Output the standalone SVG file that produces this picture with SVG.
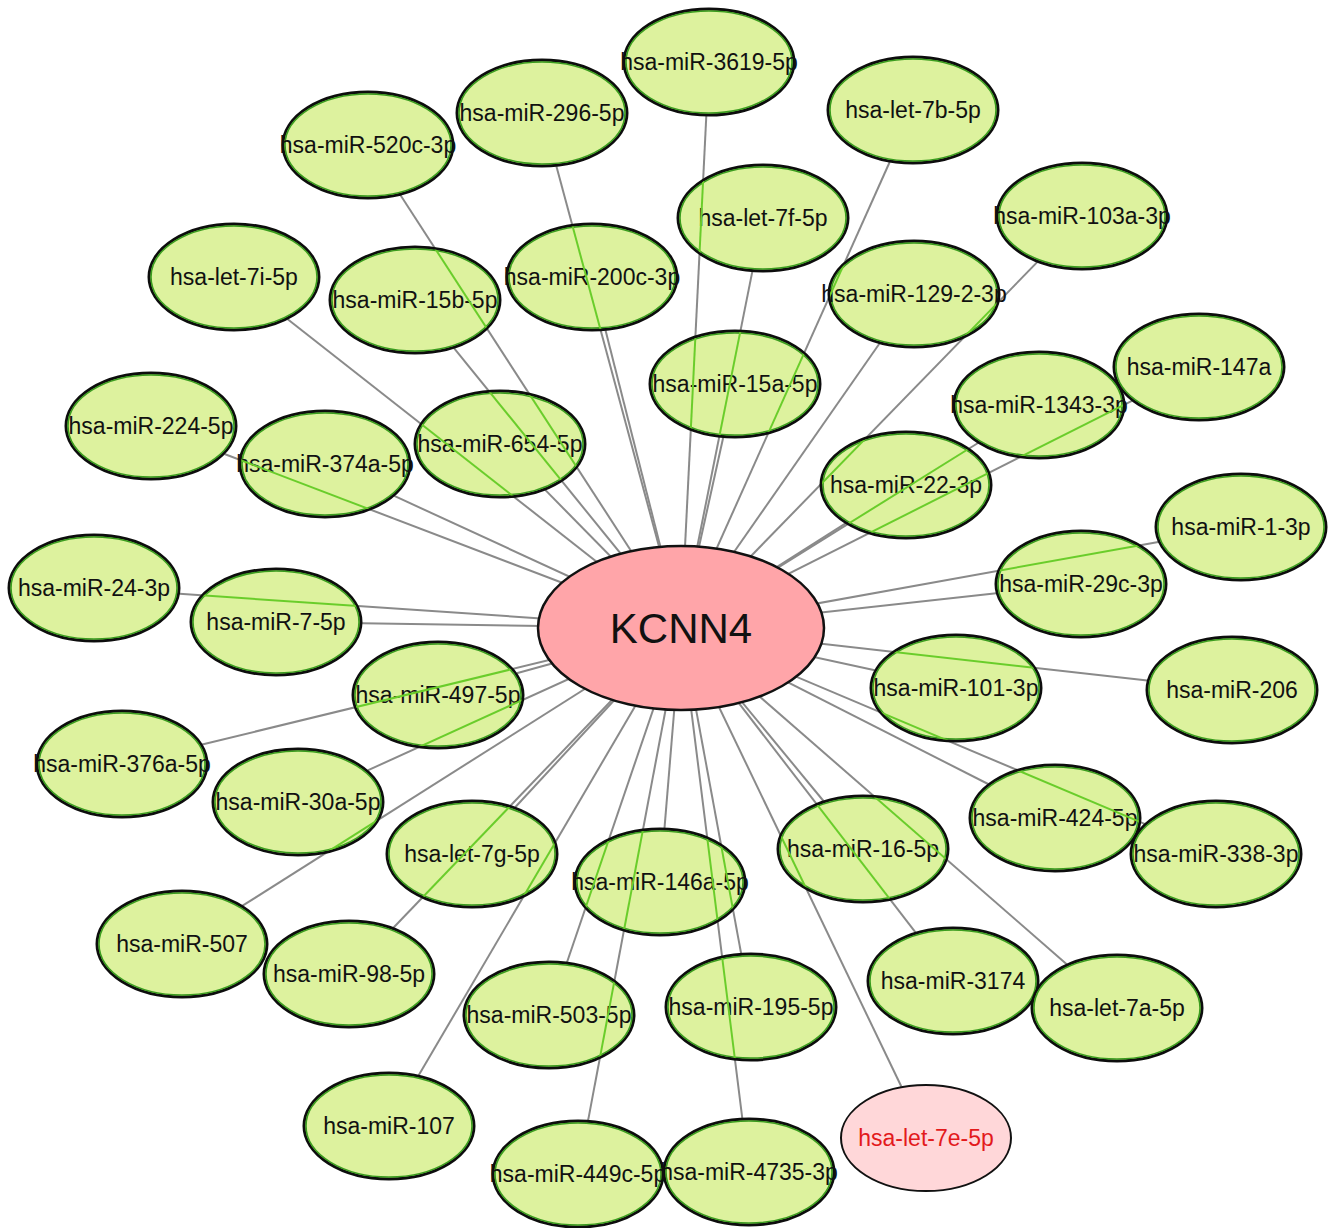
<svg xmlns="http://www.w3.org/2000/svg" xmlns:xlink="http://www.w3.org/1999/xlink" width="1335" height="1228" viewBox="0 0 1335 1228">
<style>
.e{stroke:#8a8a8a;stroke-width:2}
.nf{fill:#ddf29e;stroke:#0d0d0d;stroke-width:3}
.ni{fill:none;stroke:#3b9d1f;stroke-width:1.6}
.t{font-family:"Liberation Sans",Arial,sans-serif;font-size:23px;fill:#111;text-anchor:middle}
.hub{fill:#ffa5a9;stroke:#111;stroke-width:2.5}
.hubt{font-family:"Liberation Sans",Arial,sans-serif;font-size:42px;fill:#111;text-anchor:middle}
.pk{fill:#ffd7d9;stroke:#111;stroke-width:2}
.rt{font-family:"Liberation Sans",Arial,sans-serif;font-size:23px;fill:#e31a1c;text-anchor:middle}
</style>
<defs>
<filter id="tint" filterUnits="userSpaceOnUse" x="0" y="0" width="1335" height="1228">
<feFlood flood-color="#6acd2c"/>
<feComposite in2="SourceAlpha" operator="in"/>
</filter>
<clipPath id="nc">
<ellipse cx="709" cy="62" rx="84" ry="52"/>
<ellipse cx="542" cy="113" rx="84" ry="52"/>
<ellipse cx="368" cy="145" rx="84" ry="52"/>
<ellipse cx="913" cy="110" rx="84" ry="52"/>
<ellipse cx="763" cy="218" rx="84" ry="52"/>
<ellipse cx="1082" cy="216" rx="84" ry="52"/>
<ellipse cx="234" cy="277" rx="84" ry="52"/>
<ellipse cx="415" cy="300" rx="84" ry="52"/>
<ellipse cx="592" cy="277" rx="84" ry="52"/>
<ellipse cx="914" cy="294" rx="84" ry="52"/>
<ellipse cx="1199" cy="367" rx="84" ry="52"/>
<ellipse cx="735" cy="384" rx="84" ry="52"/>
<ellipse cx="1039" cy="405" rx="84" ry="52"/>
<ellipse cx="151" cy="426" rx="84" ry="52"/>
<ellipse cx="325" cy="464" rx="84" ry="52"/>
<ellipse cx="500" cy="444" rx="84" ry="52"/>
<ellipse cx="906" cy="485" rx="84" ry="52"/>
<ellipse cx="1241" cy="527" rx="84" ry="52"/>
<ellipse cx="94" cy="588" rx="84" ry="52"/>
<ellipse cx="1081" cy="584" rx="84" ry="52"/>
<ellipse cx="276" cy="622" rx="84" ry="52"/>
<ellipse cx="1232" cy="690" rx="84" ry="52"/>
<ellipse cx="956" cy="688" rx="84" ry="52"/>
<ellipse cx="438" cy="695" rx="84" ry="52"/>
<ellipse cx="122" cy="764" rx="84" ry="52"/>
<ellipse cx="298" cy="802" rx="84" ry="52"/>
<ellipse cx="1055" cy="818" rx="84" ry="52"/>
<ellipse cx="1216" cy="854" rx="84" ry="52"/>
<ellipse cx="863" cy="849" rx="84" ry="52"/>
<ellipse cx="472" cy="854" rx="84" ry="52"/>
<ellipse cx="660" cy="882" rx="84" ry="52"/>
<ellipse cx="182" cy="944" rx="84" ry="52"/>
<ellipse cx="349" cy="974" rx="84" ry="52"/>
<ellipse cx="953" cy="981" rx="84" ry="52"/>
<ellipse cx="1117" cy="1008" rx="84" ry="52"/>
<ellipse cx="549" cy="1015" rx="84" ry="52"/>
<ellipse cx="751" cy="1007" rx="84" ry="52"/>
<ellipse cx="389" cy="1126" rx="84" ry="52"/>
<ellipse cx="578" cy="1174" rx="84" ry="52"/>
<ellipse cx="749" cy="1172" rx="84" ry="52"/>
</clipPath>
</defs>
<rect width="1335" height="1228" fill="#fff"/>
<g id="edges" class="e">
<line x1="706.3" y1="116" x2="681" y2="628"/>
<line x1="556.4" y1="166.2" x2="681" y2="628"/>
<line x1="400.4" y1="195" x2="681" y2="628"/>
<line x1="889.7" y1="162" x2="681" y2="628"/>
<line x1="752.3" y1="271.6" x2="681" y2="628"/>
<line x1="1037.2" y1="262.1" x2="681" y2="628"/>
<line x1="287.7" y1="319.2" x2="681" y2="628"/>
<line x1="454" y1="348.1" x2="681" y2="628"/>
<line x1="605.5" y1="330.3" x2="681" y2="628"/>
<line x1="879.5" y1="343.5" x2="681" y2="628"/>
<line x1="1131.9" y1="400.8" x2="681" y2="628"/>
<line x1="723.2" y1="437.5" x2="681" y2="628"/>
<line x1="978" y1="443" x2="681" y2="628"/>
<line x1="224.5" y1="454" x2="681" y2="628"/>
<line x1="394.3" y1="495.9" x2="681" y2="628"/>
<line x1="545.2" y1="489.9" x2="681" y2="628"/>
<line x1="845.6" y1="523.4" x2="681" y2="628"/>
<line x1="1158.3" y1="541.9" x2="681" y2="628"/>
<line x1="179.5" y1="593.8" x2="681" y2="628"/>
<line x1="996.3" y1="593.3" x2="681" y2="628"/>
<line x1="362" y1="623.3" x2="681" y2="628"/>
<line x1="1147.4" y1="680.5" x2="681" y2="628"/>
<line x1="874.8" y1="670.3" x2="681" y2="628"/>
<line x1="516.7" y1="673.3" x2="681" y2="628"/>
<line x1="202.2" y1="744.5" x2="681" y2="628"/>
<line x1="367.7" y1="770.4" x2="681" y2="628"/>
<line x1="988.1" y1="784" x2="681" y2="628"/>
<line x1="1144.6" y1="823.9" x2="681" y2="628"/>
<line x1="823.5" y1="801" x2="681" y2="628"/>
<line x1="515.2" y1="807.3" x2="681" y2="628"/>
<line x1="664.5" y1="828.1" x2="681" y2="628"/>
<line x1="242.6" y1="905.7" x2="681" y2="628"/>
<line x1="393.4" y1="927.7" x2="681" y2="628"/>
<line x1="915.5" y1="932.4" x2="681" y2="628"/>
<line x1="1066.7" y1="964.2" x2="681" y2="628"/>
<line x1="567" y1="962.2" x2="681" y2="628"/>
<line x1="741.1" y1="953.4" x2="681" y2="628"/>
<line x1="418.7" y1="1075.3" x2="681" y2="628"/>
<line x1="901.2" y1="1086.3" x2="681" y2="628"/>
<line x1="588.1" y1="1120.4" x2="681" y2="628"/>
<line x1="742.3" y1="1118.2" x2="681" y2="628"/>
</g>
<g id="nodes">
<g id="n-hsa-miR-3619-5p" transform="translate(709,62)"><ellipse class="nf" rx="85" ry="53"/><ellipse class="ni" rx="83" ry="51"/><text class="t" y="8">hsa-miR-3619-5p</text></g>
<g id="n-hsa-miR-296-5p" transform="translate(542,113)"><ellipse class="nf" rx="85" ry="53"/><ellipse class="ni" rx="83" ry="51"/><text class="t" y="8">hsa-miR-296-5p</text></g>
<g id="n-hsa-miR-520c-3p" transform="translate(368,145)"><ellipse class="nf" rx="85" ry="53"/><ellipse class="ni" rx="83" ry="51"/><text class="t" y="8">hsa-miR-520c-3p</text></g>
<g id="n-hsa-let-7b-5p" transform="translate(913,110)"><ellipse class="nf" rx="85" ry="53"/><ellipse class="ni" rx="83" ry="51"/><text class="t" y="8">hsa-let-7b-5p</text></g>
<g id="n-hsa-let-7f-5p" transform="translate(763,218)"><ellipse class="nf" rx="85" ry="53"/><ellipse class="ni" rx="83" ry="51"/><text class="t" y="8">hsa-let-7f-5p</text></g>
<g id="n-hsa-miR-103a-3p" transform="translate(1082,216)"><ellipse class="nf" rx="85" ry="53"/><ellipse class="ni" rx="83" ry="51"/><text class="t" y="8">hsa-miR-103a-3p</text></g>
<g id="n-hsa-let-7i-5p" transform="translate(234,277)"><ellipse class="nf" rx="85" ry="53"/><ellipse class="ni" rx="83" ry="51"/><text class="t" y="8">hsa-let-7i-5p</text></g>
<g id="n-hsa-miR-15b-5p" transform="translate(415,300)"><ellipse class="nf" rx="85" ry="53"/><ellipse class="ni" rx="83" ry="51"/><text class="t" y="8">hsa-miR-15b-5p</text></g>
<g id="n-hsa-miR-200c-3p" transform="translate(592,277)"><ellipse class="nf" rx="85" ry="53"/><ellipse class="ni" rx="83" ry="51"/><text class="t" y="8">hsa-miR-200c-3p</text></g>
<g id="n-hsa-miR-129-2-3p" transform="translate(914,294)"><ellipse class="nf" rx="85" ry="53"/><ellipse class="ni" rx="83" ry="51"/><text class="t" y="8">hsa-miR-129-2-3p</text></g>
<g id="n-hsa-miR-147a" transform="translate(1199,367)"><ellipse class="nf" rx="85" ry="53"/><ellipse class="ni" rx="83" ry="51"/><text class="t" y="8">hsa-miR-147a</text></g>
<g id="n-hsa-miR-15a-5p" transform="translate(735,384)"><ellipse class="nf" rx="85" ry="53"/><ellipse class="ni" rx="83" ry="51"/><text class="t" y="8">hsa-miR-15a-5p</text></g>
<g id="n-hsa-miR-1343-3p" transform="translate(1039,405)"><ellipse class="nf" rx="85" ry="53"/><ellipse class="ni" rx="83" ry="51"/><text class="t" y="8">hsa-miR-1343-3p</text></g>
<g id="n-hsa-miR-224-5p" transform="translate(151,426)"><ellipse class="nf" rx="85" ry="53"/><ellipse class="ni" rx="83" ry="51"/><text class="t" y="8">hsa-miR-224-5p</text></g>
<g id="n-hsa-miR-374a-5p" transform="translate(325,464)"><ellipse class="nf" rx="85" ry="53"/><ellipse class="ni" rx="83" ry="51"/><text class="t" y="8">hsa-miR-374a-5p</text></g>
<g id="n-hsa-miR-654-5p" transform="translate(500,444)"><ellipse class="nf" rx="85" ry="53"/><ellipse class="ni" rx="83" ry="51"/><text class="t" y="8">hsa-miR-654-5p</text></g>
<g id="n-hsa-miR-22-3p" transform="translate(906,485)"><ellipse class="nf" rx="85" ry="53"/><ellipse class="ni" rx="83" ry="51"/><text class="t" y="8">hsa-miR-22-3p</text></g>
<g id="n-hsa-miR-1-3p" transform="translate(1241,527)"><ellipse class="nf" rx="85" ry="53"/><ellipse class="ni" rx="83" ry="51"/><text class="t" y="8">hsa-miR-1-3p</text></g>
<g id="n-hsa-miR-24-3p" transform="translate(94,588)"><ellipse class="nf" rx="85" ry="53"/><ellipse class="ni" rx="83" ry="51"/><text class="t" y="8">hsa-miR-24-3p</text></g>
<g id="n-hsa-miR-29c-3p" transform="translate(1081,584)"><ellipse class="nf" rx="85" ry="53"/><ellipse class="ni" rx="83" ry="51"/><text class="t" y="8">hsa-miR-29c-3p</text></g>
<g id="n-hsa-miR-7-5p" transform="translate(276,622)"><ellipse class="nf" rx="85" ry="53"/><ellipse class="ni" rx="83" ry="51"/><text class="t" y="8">hsa-miR-7-5p</text></g>
<g id="n-hsa-miR-206" transform="translate(1232,690)"><ellipse class="nf" rx="85" ry="53"/><ellipse class="ni" rx="83" ry="51"/><text class="t" y="8">hsa-miR-206</text></g>
<g id="n-hsa-miR-101-3p" transform="translate(956,688)"><ellipse class="nf" rx="85" ry="53"/><ellipse class="ni" rx="83" ry="51"/><text class="t" y="8">hsa-miR-101-3p</text></g>
<g id="n-hsa-miR-497-5p" transform="translate(438,695)"><ellipse class="nf" rx="85" ry="53"/><ellipse class="ni" rx="83" ry="51"/><text class="t" y="8">hsa-miR-497-5p</text></g>
<g id="n-hsa-miR-376a-5p" transform="translate(122,764)"><ellipse class="nf" rx="85" ry="53"/><ellipse class="ni" rx="83" ry="51"/><text class="t" y="8">hsa-miR-376a-5p</text></g>
<g id="n-hsa-miR-30a-5p" transform="translate(298,802)"><ellipse class="nf" rx="85" ry="53"/><ellipse class="ni" rx="83" ry="51"/><text class="t" y="8">hsa-miR-30a-5p</text></g>
<g id="n-hsa-miR-424-5p" transform="translate(1055,818)"><ellipse class="nf" rx="85" ry="53"/><ellipse class="ni" rx="83" ry="51"/><text class="t" y="8">hsa-miR-424-5p</text></g>
<g id="n-hsa-miR-338-3p" transform="translate(1216,854)"><ellipse class="nf" rx="85" ry="53"/><ellipse class="ni" rx="83" ry="51"/><text class="t" y="8">hsa-miR-338-3p</text></g>
<g id="n-hsa-miR-16-5p" transform="translate(863,849)"><ellipse class="nf" rx="85" ry="53"/><ellipse class="ni" rx="83" ry="51"/><text class="t" y="8">hsa-miR-16-5p</text></g>
<g id="n-hsa-let-7g-5p" transform="translate(472,854)"><ellipse class="nf" rx="85" ry="53"/><ellipse class="ni" rx="83" ry="51"/><text class="t" y="8">hsa-let-7g-5p</text></g>
<g id="n-hsa-miR-146a-5p" transform="translate(660,882)"><ellipse class="nf" rx="85" ry="53"/><ellipse class="ni" rx="83" ry="51"/><text class="t" y="8">hsa-miR-146a-5p</text></g>
<g id="n-hsa-miR-507" transform="translate(182,944)"><ellipse class="nf" rx="85" ry="53"/><ellipse class="ni" rx="83" ry="51"/><text class="t" y="8">hsa-miR-507</text></g>
<g id="n-hsa-miR-98-5p" transform="translate(349,974)"><ellipse class="nf" rx="85" ry="53"/><ellipse class="ni" rx="83" ry="51"/><text class="t" y="8">hsa-miR-98-5p</text></g>
<g id="n-hsa-miR-3174" transform="translate(953,981)"><ellipse class="nf" rx="85" ry="53"/><ellipse class="ni" rx="83" ry="51"/><text class="t" y="8">hsa-miR-3174</text></g>
<g id="n-hsa-let-7a-5p" transform="translate(1117,1008)"><ellipse class="nf" rx="85" ry="53"/><ellipse class="ni" rx="83" ry="51"/><text class="t" y="8">hsa-let-7a-5p</text></g>
<g id="n-hsa-miR-503-5p" transform="translate(549,1015)"><ellipse class="nf" rx="85" ry="53"/><ellipse class="ni" rx="83" ry="51"/><text class="t" y="8">hsa-miR-503-5p</text></g>
<g id="n-hsa-miR-195-5p" transform="translate(751,1007)"><ellipse class="nf" rx="85" ry="53"/><ellipse class="ni" rx="83" ry="51"/><text class="t" y="8">hsa-miR-195-5p</text></g>
<g id="n-hsa-miR-107" transform="translate(389,1126)"><ellipse class="nf" rx="85" ry="53"/><ellipse class="ni" rx="83" ry="51"/><text class="t" y="8">hsa-miR-107</text></g>
<g id="n-hsa-let-7e-5p" transform="translate(926,1138)"><ellipse class="pk" rx="85" ry="53"/><text class="rt" y="8">hsa-let-7e-5p</text></g>
<g id="n-hsa-miR-449c-5p" transform="translate(578,1174)"><ellipse class="nf" rx="85" ry="53"/><ellipse class="ni" rx="83" ry="51"/><text class="t" y="8">hsa-miR-449c-5p</text></g>
<g id="n-hsa-miR-4735-3p" transform="translate(749,1172)"><ellipse class="nf" rx="85" ry="53"/><ellipse class="ni" rx="83" ry="51"/><text class="t" y="8">hsa-miR-4735-3p</text></g>
<g id="n-KCNN4" transform="translate(681,628)"><ellipse class="hub" rx="143" ry="82"/><text class="hubt" y="15">KCNN4</text></g>
</g>
<use id="edge-overlay" xlink:href="#edges" href="#edges" clip-path="url(#nc)" filter="url(#tint)"/>
</svg>
